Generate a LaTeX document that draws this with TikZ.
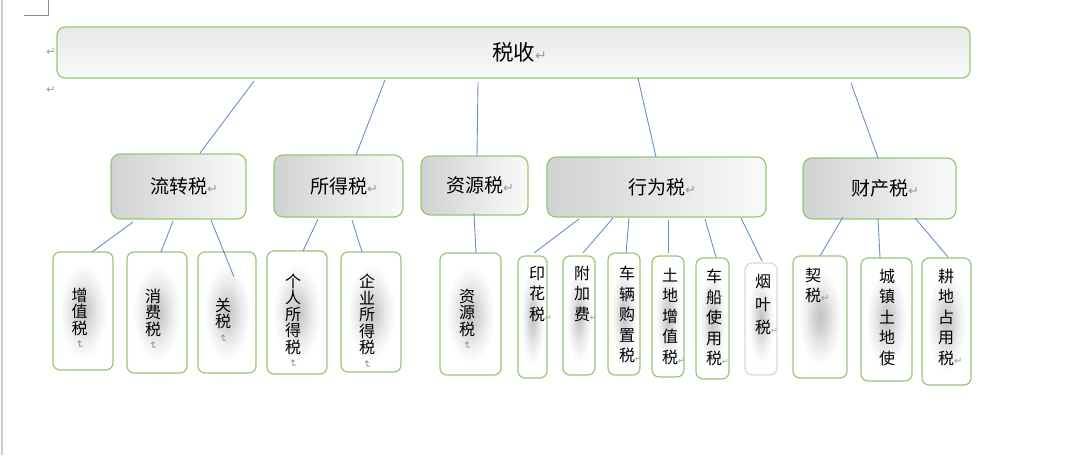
\documentclass[tikz,border=0pt]{standalone}
\usepackage{fontspec}
\setmainfont{Noto Sans CJK SC}
\newfontfamily\symfont{DejaVu Sans}
\usetikzlibrary{calc}
\definecolor{bordgreen}{RGB}{152,198,118}
\definecolor{linkblue}{RGB}{108,140,208}
\pgfdeclareradialshading{blob}{\pgfpoint{0bp}{0bp}}{color(0bp)=(black!24); color(6bp)=(black!17); color(13bp)=(black!7); color(20bp)=(white); color(50bp)=(white)}
\newcommand\pmark[1]{{\symfont\fontsize{#1}{#1}\selectfont\color{black!40}↵}}
\newcommand\vmark{{\symfont\fontsize{10}{10}\selectfont\color{black!45}\rotatebox{-90}{↵}}}
\newcommand\bx[7]{\node[#1, minimum width={#5pt-#3pt}, minimum height={#6pt-#4pt}] (#2) at ({(#3+#5)/2},{(#4+#6)/2}) {#7};}
\tikzset{
  boxbase/.style={draw=bordgreen, line width=1.2pt, outer sep=0pt, inner sep=0pt},
  topbox/.style={boxbase, rounded corners=8pt, top color=black!9, bottom color=black!2, font=\fontsize{21.5pt}{24pt}\selectfont},
  midbox/.style={boxbase, rounded corners=9pt, left color=black!18, right color=black!2, font=\fontsize{19pt}{22pt}\selectfont},
  leafbox/.style={boxbase, rounded corners=7pt, shading=blob},
  greybox/.style={leafbox, draw=black!15},
  vtA/.style={inner sep=0pt, outer sep=0pt, anchor=north, align=center, font=\fontsize{16pt}{16.5pt}\selectfont},
  vtB/.style={inner sep=0pt, outer sep=0pt, anchor=north, align=center, font=\fontsize{16pt}{20.5pt}\selectfont},
  vtC/.style={inner sep=0pt, outer sep=0pt, anchor=north, align=center, font=\fontsize{16pt}{23pt}\selectfont},
  link/.style={draw=linkblue, line width=0.9pt},
}
\begin{document}
\begin{tikzpicture}[x=1pt,y=-1pt]
\useasboundingbox (0,0) rectangle (1070,455);
% page marks
\draw[black!20, line width=1.5pt] (2,0) -- (2,455);
\draw[black!45, line width=0.6pt] (48,0) -- (48,15) -- (24,15);
\node[inner sep=0pt] (pm1) at (51,52) {\pmark{11}};
\node[inner sep=0pt] (pm2) at (51,90) {\pmark{11}};
% top
\bx{topbox}{top}{57}{27}{970}{78}{税收\rlap{\pmark{14}}}
% middle
\bx{midbox}{lz}{111}{154}{246}{219}{流转税\rlap{\pmark{13}}}
\bx{midbox}{sd}{274}{155}{403}{217}{所得税\rlap{\pmark{13}}}
\bx{midbox}{zy}{421}{156}{528}{215}{资源税\rlap{\pmark{13}}}
\bx{midbox}{xw}{547}{157}{766}{217}{行为税\rlap{\pmark{13}}}
\bx{midbox}{cc}{803}{158}{956}{219}{财产税\rlap{\pmark{13}}}
% leaves
\bx{leafbox}{l1}{53}{252}{113}{370}{}
\bx{leafbox}{l2}{127}{252}{187}{373}{}
\bx{leafbox}{l3}{198}{252}{256}{373}{}
\bx{leafbox}{l4}{267}{251}{327}{374}{}
\bx{leafbox}{l5}{341}{252}{401}{372}{}
\bx{leafbox}{l6}{440}{253}{501}{375}{}
\bx{leafbox}{l7}{518}{256}{547}{378}{}
\bx{leafbox}{l8}{563}{256}{595}{375}{}
\bx{leafbox}{l9}{608}{253}{640}{375}{}
\bx{leafbox}{l10}{652}{256}{684}{377}{}
\bx{leafbox}{l11}{696}{258}{729}{379}{}
\bx{greybox}{l12}{745}{263}{777}{375}{}
\bx{leafbox}{l13}{793}{256}{847}{378}{}
\bx{leafbox}{l14}{861}{258}{912}{381}{}
\bx{leafbox}{l15}{922}{258}{971}{385}{}
% leaf texts
\node[vtA] (t1) at (79.5,288) {增\\值\\税\\[-10pt]\vmark};
\node[vtA] (t2) at (153,289) {消\\费\\税\\[-10pt]\vmark};
\node[vtA] (t3) at (223,298) {关\\税\\[-10pt]\vmark};
\node[vtA] (t4) at (293,274) {个\\人\\所\\得\\税\\[-10pt]\vmark};
\node[vtA] (t5) at (367,274) {企\\业\\所\\得\\税\\[-10pt]\vmark};
\node[vtA] (t6) at (467,289) {资\\源\\税\\[-10pt]\vmark};
\node[vtB] (t7) at (537,266) {印\\花\\税\rlap{\pmark{8}}};
\node[vtB] (t8) at (582,266) {附\\加\\费\rlap{\pmark{8}}};
\node[vtB] (t9) at (627,266) {车\\辆\\购\\置\\税\rlap{\pmark{8}}};
\node[vtB] (t10) at (670,268) {土\\地\\增\\值\\税\rlap{\pmark{8}}};
\node[vtB] (t11) at (714,269) {车\\船\\使\\用\\税\rlap{\pmark{8}}};
\node[vtC] (t12) at (763,274) {烟\\叶\\税\rlap{\pmark{8}}};
\node[vtB] (t13) at (813,268) {契\\税\rlap{\pmark{10}}};
\node[vtB] (t14) at (887,269) {城\\镇\\土\\地\\使};
\node[vtB] (t15) at (946,269) {耕\\地\\占\\用\\税\rlap{\pmark{10}}};
% connectors
\draw[link] ($(top.south west)+(197,3)$) -- ($(lz.north west)+(89,-1)$);
\draw[link] ($(top.south west)+(328,2)$) -- ($(sd.north west)+(82,0)$);
\draw[link] ($(top.south west)+(421,4)$) -- ($(zy.north west)+(56,0)$);
\draw[link] ($(top.south west)+(581,0)$) -- ($(xw.north west)+(109,0)$);
\draw[link] ($(top.south west)+(794,5)$) -- ($(cc.north west)+(75,0)$);
\draw[link] ($(lz.south west)+(22,3)$) -- ($(l1.north west)+(39,0)$);
\draw[link] ($(lz.south west)+(62,2)$) -- ($(l2.north west)+(34,0)$);
\draw[link] ($(lz.south west)+(100,1)$) -- ($(l3.north west)+(36,25)$);
\draw[link] ($(sd.south west)+(44,2)$) -- ($(l4.north west)+(36,0)$);
\draw[link] ($(sd.south west)+(78,3)$) -- ($(l5.north west)+(21,0)$);
\draw[link] ($(zy.south west)+(53,-2)$) -- ($(l6.north west)+(36,0)$);
\draw[link] ($(xw.south west)+(32,2)$) -- ($(l7.north west)+(16,-3)$);
\draw[link] ($(xw.south west)+(66,1)$) -- ($(l8.north west)+(20,-3)$);
\draw[link] ($(xw.south west)+(82,1)$) -- ($(l9.north west)+(18,0)$);
\draw[link] ($(xw.south west)+(121,3)$) -- ($(l10.north west)+(16,-3)$);
\draw[link] ($(xw.south west)+(158,2)$) -- ($(l11.north west)+(20,-1)$);
\draw[link] ($(xw.south west)+(194,1)$) -- ($(l12.north west)+(17,-2)$);
\draw[link] ($(cc.south west)+(40,-2)$) -- ($(l13.north west)+(27,0)$);
\draw[link] ($(cc.south west)+(75,-1)$) -- ($(l14.north west)+(19,0)$);
\draw[link] ($(cc.south west)+(112,-1)$) -- ($(l15.north west)+(26,-1)$);
\end{tikzpicture}
\end{document}
